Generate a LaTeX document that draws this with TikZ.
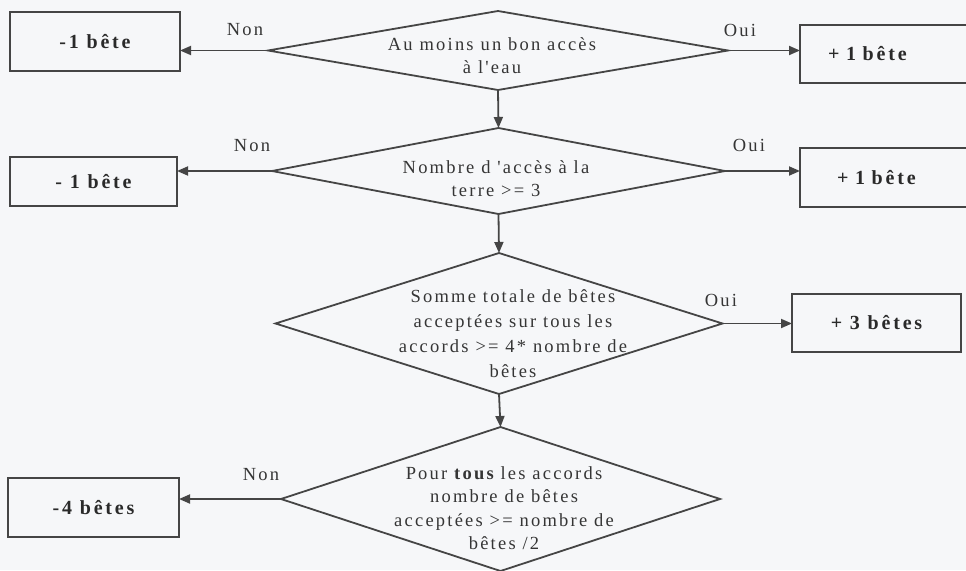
\documentclass[tikz,border=0pt]{standalone}
\usepackage{fontspec}
\setmainfont{Liberation Serif}
\newfontfamily\lsf{Liberation Serif}[LetterSpace=12]
\newfontfamily\lsb{Liberation Serif}[LetterSpace=14]
\usetikzlibrary{shapes.geometric,arrows.meta}
\definecolor{bgc}{HTML}{F6F7F9}
\definecolor{linec}{HTML}{454545}
\definecolor{txtc}{HTML}{353535}
\definecolor{boxtxt}{HTML}{2A2A2A}
\begin{document}
\begin{tikzpicture}[x=1pt,y=-1pt,
  dia/.style={draw=linec, line width=1.8pt, shape=diamond, inner sep=0pt, outer sep=0pt},
  dtext/.style={font=\lsf\fontsize{18.5}{23.5}\selectfont, text=txtc, align=center, inner sep=0pt},
  box/.style={draw=linec, line width=1.8pt, rectangle, inner sep=0pt, outer sep=0pt,
              font=\lsb\bfseries\fontsize{20}{24}\selectfont, text=boxtxt},
  lbl/.style={font=\lsf\fontsize{18.5}{22}\selectfont, text=txtc, inner sep=0pt},
  arr/.style={draw=linec, line width=1.8pt, -{Triangle[length=11pt,width=9pt]}}]
\useasboundingbox (0,0) rectangle (966,570);
\clip (0,0) rectangle (966,570);
\fill[bgc] (0,0) rectangle (966,570);

% decisions
\node[dia, minimum width=460pt, minimum height=79pt] (d1) at (498,50.5) {};
\node[dia, minimum width=453pt, minimum height=86pt] (d2) at (498.5,171) {};
\node[dia, minimum width=447pt, minimum height=141pt] (d3) at (499,323.5) {};
\node[dia, minimum width=439pt, minimum height=144pt] (d4) at (500.5,499) {};

\node[dtext] (t1) at (492,55.5) {Au moins un bon accès\\à l'eau};
\node[dtext] (t2) at (496,178.5) {Nombre d 'accès à la\\terre >= 3};
\node[dtext, font=\lsf\fontsize{18.5}{25}\selectfont] (t3) at (513,333.5) {Somme totale de bêtes\\acceptées sur tous les\\accords >= 4* nombre de\\bêtes};
\node[dtext] (t4) at (504,508) {Pour {\bfseries tous} les accords\\nombre de bêtes\\acceptées >= nombre de\\bêtes /2};

% outcome boxes
\node[box, minimum width=170pt, minimum height=59pt] (b1) at (95,41.5) {\raisebox{-4pt}{-1 bête}};
\node[box, inner xsep=28pt, text width=124pt, align=left, minimum height=58pt] (b2) at (890,54) {+ 1 bête};
\node[box, minimum width=167pt, minimum height=49pt] (b3) at (93.5,181.5) {- 1 bête};
\node[box, inner xsep=37pt, text width=106pt, align=left, minimum height=59pt] (b4) at (890,177.5) {\raisebox{-4pt}{+ 1 bête}};
\node[box, minimum width=169pt, minimum height=58pt] (b5) at (876.5,323) {+ 3 bêtes};
\node[box, minimum width=171pt, minimum height=59pt] (b6) at (93.5,507.5) {-4 bêtes};

% connectors
\draw[arr] (d1.west) -- (d1.west -| b1.east);
\draw[arr] (d1.east) -- (d1.east -| b2.west);
\draw[arr] (d2.west) -- (d2.west -| b3.east);
\draw[arr] (d2.east) -- (d2.east -| b4.west);
\draw[arr] (d3.east) -- (d3.east -| b5.west);
\draw[arr] (d4.west) -- (d4.west -| b6.east);
\draw[arr] (d1.south) -- (d2.north);
\draw[arr] (d2.south) -- (d3.north);
\draw[arr] (d3.south) -- (d4.north);

% labels
\node[lbl] (l1) at (245,30) {Non};
\node[lbl] (l2) at (740,30) {Oui};
\node[lbl] (l3) at (252,146) {Non};
\node[lbl] (l4) at (749,145) {Oui};
\node[lbl] (l5) at (721,300) {Oui};
\node[lbl] (l6) at (261,475) {Non};
\end{tikzpicture}
\end{document}
